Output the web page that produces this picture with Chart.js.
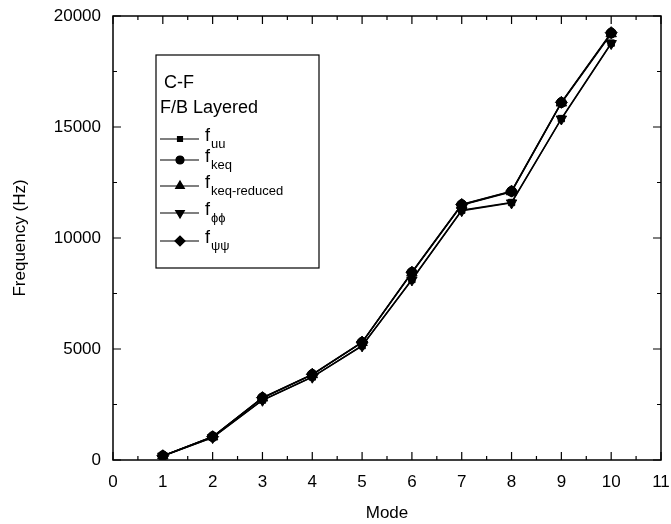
<!DOCTYPE html>
<html>
<head>
<meta charset="utf-8">
<script src="https://cdn.jsdelivr.net/npm/chart.js@4.4.0/dist/chart.umd.min.js"></script>
<style>
    html, body { margin: 0; padding: 0; background: #fff; }
    #wrap { width: 671px; height: 524px; }
</style>
</head>
<body>
<div id="wrap"><canvas id="Chart" width="671" height="524"></canvas></div>
<script>
// data
const modes = [1, 2, 3, 4, 5, 6, 7, 8, 9, 10];
const fUU = [180, 1020, 2700, 3740, 5150, 8130, 11250, 11600, 15380, 18780];
const fKeq = [190, 1050, 2800, 3850, 5300, 8450, 11500, 12100, 16100, 19230];
const fKeqReduced = [185, 1040, 2790, 3840, 5290, 8430, 11480, 12080, 16080, 19200];
const fPhiPhi = [175, 1010, 2690, 3730, 5140, 8110, 11230, 11580, 15360, 18760];
const fPsiPsi = [190, 1050, 2810, 3860, 5310, 8460, 11510, 12110, 16110, 19250];
const xTicks = [0, 1, 2, 3, 4, 5, 6, 7, 8, 9, 10, 11];
const yTicks = [0, 5000, 10000, 15000, 20000];

const FONT = "'Liberation Sans', Arial, Helvetica, sans-serif";

function pts(vals) {
    return modes.map(function (m, i) { return { x: m, y: vals[i] }; });
}

const series = [
    { sub: "uu", data: fUU, style: "rect", rot: 0, r: 4.5 },
    { sub: "keq", data: fKeq, style: "circle", rot: 0, r: 5 },
    { sub: "keq-reduced", data: fKeqReduced, style: "triangle", rot: 0, r: 6 },
    { sub: "\u03d5\u03d5", data: fPhiPhi, style: "triangle", rot: 180, r: 6 },
    { sub: "\u03c8\u03c8", data: fPsiPsi, style: "rectRot", rot: 0, r: 6 }
];

// inward ticks on all four sides + custom legend box
const framePlugin = {
    id: "frame",
    afterDraw: function (chart) {
        const ctx = chart.ctx;
        const a = chart.chartArea;
        const xs = chart.scales.x;
        const ys = chart.scales.y;
        ctx.save();
        ctx.strokeStyle = "#000";
        ctx.lineWidth = 1.5;
        ctx.strokeRect(a.left, a.top, a.right - a.left, a.bottom - a.top);
        ctx.lineWidth = 1.2;
        ctx.beginPath();
        for (let v = 0; v <= 11; v += 0.5) {
            const px = xs.getPixelForValue(v);
            const len = Number.isInteger(v) ? 8 : 4;
            ctx.moveTo(px, a.bottom); ctx.lineTo(px, a.bottom - len);
            ctx.moveTo(px, a.top); ctx.lineTo(px, a.top + len);
        }
        for (let v = 0; v <= 20000; v += 2500) {
            const py = ys.getPixelForValue(v);
            const len = v % 5000 === 0 ? 8 : 4;
            ctx.moveTo(a.left, py); ctx.lineTo(a.left + len, py);
            ctx.moveTo(a.right, py); ctx.lineTo(a.right - len, py);
        }
        ctx.stroke();

        // legend
        const box = { l: 156, t: 55, r: 319, b: 268 };
        ctx.fillStyle = "#fff";
        ctx.fillRect(box.l, box.t, box.r - box.l, box.b - box.t);
        ctx.lineWidth = 1.2;
        ctx.strokeRect(box.l, box.t, box.r - box.l, box.b - box.t);
        ctx.fillStyle = "#000";
        ctx.textBaseline = "middle";
        ctx.textAlign = "left";
        ctx.font = "18px " + FONT;
        ctx.fillText("C-F", 164, 83);
        ctx.fillText("F/B Layered", 160, 108);
        const rows = [139, 160, 186, 213, 241];
        series.forEach(function (s, i) {
            const y = rows[i];
            ctx.beginPath();
            ctx.lineWidth = 1.2;
            ctx.moveTo(160, y); ctx.lineTo(199, y);
            ctx.stroke();
            Chart.helpers.drawPoint(ctx, { pointStyle: s.style, rotation: s.rot, radius: s.r - 1, borderWidth: 1 }, 180, y);
            ctx.fill();
            ctx.font = "18px " + FONT;
            ctx.fillText("f", 205, y - 3);
            ctx.font = "13px " + FONT;
            ctx.fillText(s.sub, 211, y + 5);
        });
        ctx.restore();
    }
};

function noPad(scale) {
    scale.paddingTop = 0;
    scale.paddingBottom = 0;
    scale.paddingLeft = 0;
    scale.paddingRight = 0;
}

const ctx = document.getElementById("Chart").getContext("2d");

const chart = new Chart(ctx, {
    type: "line",
    data: {
        datasets: series.map(function (s) {
            return {
                label: "f" + s.sub,
                data: pts(s.data),
                borderColor: "#000",
                backgroundColor: "#000",
                borderWidth: 1.4,
                pointStyle: s.style,
                rotation: s.rot,
                pointRadius: s.r,
                pointBorderWidth: 1,
                tension: 0
            };
        })
    },
    plugins: [framePlugin],
    options: {
        responsive: false,
        animation: false,
        layout: { padding: { top: 16, right: 10, left: 0, bottom: 0 } },
        scales: {
            x: {
                type: "linear",
                min: 0,
                max: 11,
                afterFit: function (scale) { scale.height = 64; noPad(scale); },
                afterBuildTicks: function (scale) {
                    scale.ticks = xTicks.map(function (v) { return { value: v }; });
                },
                grid: { display: false, drawTicks: false },
                border: { display: false },
                ticks: {
                    color: "#000",
                    padding: 12,
                    autoSkip: false,
                    maxRotation: 0,
                    font: { family: FONT, size: 17 },
                    callback: function (v) { return String(v); }
                },
                title: {
                    display: true,
                    text: "Mode",
                    color: "#000",
                    padding: { top: 4, bottom: 0 },
                    font: { family: FONT, size: 17 }
                }
            },
            y: {
                min: 0,
                max: 20000,
                afterFit: function (scale) { scale.width = 113; noPad(scale); },
                afterBuildTicks: function (scale) {
                    scale.ticks = yTicks.map(function (v) { return { value: v }; });
                },
                grid: { display: false, drawTicks: false },
                border: { display: false },
                ticks: {
                    color: "#000",
                    padding: 12,
                    font: { family: FONT, size: 17 },
                    callback: function (v) { return String(v); }
                },
                title: {
                    display: true,
                    text: "Frequency (Hz)",
                    color: "#000",
                    padding: { top: 10, bottom: 0 },
                    font: { family: FONT, size: 17 }
                }
            }
        },
        plugins: {
            legend: { display: false },
            title: { display: false },
            tooltip: { enabled: false }
        }
    }
});
</script>
</body>
</html>
